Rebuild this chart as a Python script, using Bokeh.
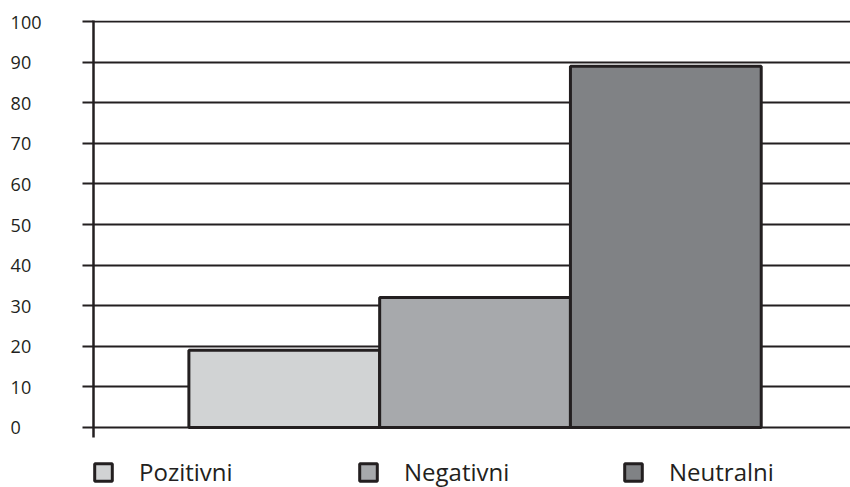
from bokeh.plotting import figure
from bokeh.models import ColumnDataSource, Range1d, FixedTicker, Legend, LegendItem
from bokeh.embed import file_html
from bokeh.resources import INLINE

categories = ["Pozitivni", "Negativni", "Neutralni"]
values = [19, 32, 89]
bar_colors = ["#d1d3d4", "#a7a9ac", "#808285"]
y_ticks = [0, 10, 20, 30, 40, 50, 60, 70, 80, 90, 100]
y_tick_labels = ["0", "10", "20", "30", "40", "50", "60", "70", "80", "90", "100"]

INK = "#231f20"
FONT = "Open Sans"
FIG_SPACE = "\u2007"
ZWSP = "\u200b"

p = figure(width=850, height=487, output_backend="svg", toolbar_location=None,
           x_range=Range1d(0, 3.968), y_range=Range1d(-14.78, 100.25),
           min_border_left=93, min_border_right=0, min_border_top=20, min_border_bottom=0)
p.outline_line_color = None
p.background_fill_color = "white"
p.border_fill_color = "white"

p.xaxis.visible = False
p.xgrid.visible = False

# labels are right-aligned by the axis; pad them on the right so they read left-aligned
width_max = max(len(s) for s in y_tick_labels)
p.yaxis.ticker = FixedTicker(ticks=y_ticks)
p.yaxis.major_label_overrides = {t: s + FIG_SPACE * (width_max - len(s)) + ZWSP
                                 for t, s in zip(y_ticks, y_tick_labels)}
p.yaxis.bounds = (-2.46, 100.25)
p.yaxis.axis_line_color = INK
p.yaxis.axis_line_width = 2.5
p.yaxis.major_tick_line_color = INK
p.yaxis.major_tick_line_width = 2
p.yaxis.major_tick_out = 11
p.yaxis.major_tick_in = 0
p.yaxis.minor_tick_line_color = None
p.yaxis.major_label_text_font = FONT
p.yaxis.major_label_text_font_size = "18px"
p.yaxis.major_label_text_color = INK
p.yaxis.major_label_standoff = 41

p.ygrid.ticker = FixedTicker(ticks=y_ticks)
p.ygrid.grid_line_color = INK
p.ygrid.grid_line_width = 2
p.ygrid.grid_line_alpha = 1.0

src = ColumnDataSource(dict(
    x=[i + 1 for i in range(len(categories))],
    top=values,
    cat=categories,
    color=bar_colors,
))
r = p.vbar(x="x", top="top", bottom=0, width=1, fill_color="color",
           line_color=INK, line_width=3, source=src)

items = [LegendItem(label=c, renderers=[r], index=i) for i, c in enumerate(categories)]
legend = Legend(items=items, location=(-1, -1), orientation="horizontal",
                glyph_width=22, glyph_height=22, label_standoff=25, label_width=200,
                spacing=18, padding=0, margin=0, border_line_alpha=0,
                background_fill_alpha=0, label_text_font=FONT,
                label_text_font_size="24px", label_text_color=INK)
p.add_layout(legend)

open("out.html", "w").write(file_html(p, INLINE))
